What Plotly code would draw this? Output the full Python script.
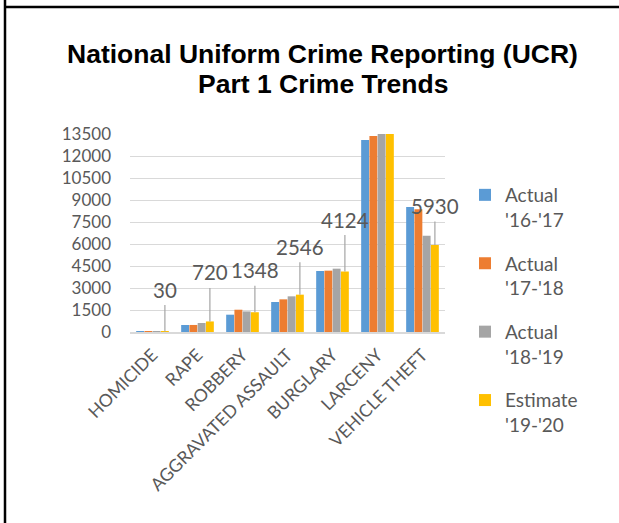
import plotly.graph_objects as go

categories = ["HOMICIDE", "RAPE", "ROBBERY", "AGGRAVATED ASSAULT", "BURGLARY", "LARCENY", "VEHICLE THEFT"]
actual_16_17 = [40, 477, 1180, 2045, 4159, 13090, 8523]
actual_17_18 = [45, 480, 1520, 2227, 4182, 13364, 8364]
actual_18_19 = [35, 613, 1404, 2432, 4318, 13700, 6568]
estimate_19_20 = [30, 720, 1348, 2546, 4124, 13800, 5930]
series_names = ["Actual<br>'16-'17", "Actual<br>'17-'18", "Actual<br>'18-'19", "Estimate<br>'19-'20"]
series_values = [actual_16_17, actual_17_18, actual_18_19, estimate_19_20]
colors = ["#5B9BD5", "#ED7D31", "#A5A5A5", "#FFC000"]
y_ticks = list(range(0, 13501, 1500))
title_lines = ["National Uniform Crime Reporting (UCR)", "Part 1 Crime Trends"]

# labelled points of the estimate series and leader offsets (px)
label_idx = [0, 1, 2, 3, 4, 6]
label_offsets = [-42, -49, -42, -48, -52, -39]

W, H = 619, 523
ML, MR, MT, MB = 130, 174, 134, 191
PW, PH = W - ML - MR, H - MT - MB


def px_x(x):
    return (x - ML) / PW


def px_y(y):
    return (H - MB - y) / PH


txt = "#595959"
fig = go.Figure()
for k, (name, vals, c) in enumerate(zip(series_names, series_values, colors)):
    fig.add_trace(go.Bar(x=categories, y=vals, name=name, marker_color=c,
                         marker_line_width=0, legendgroup=f"g{k}"))

for i, off in zip(label_idx, label_offsets):
    fig.add_annotation(x=categories[i], y=estimate_19_20[i], xref="x", yref="y",
                       text=str(estimate_19_20[i]), showarrow=True, arrowhead=0,
                       arrowwidth=1.2, arrowcolor="#A5A5A5", ax=0, ay=off,
                       xshift=12.4, borderpad=3,
                       font=dict(family="Lato", size=20.5, color=txt))

for line, yc in zip(title_lines, [53.5, 83.5]):
    fig.add_annotation(text=f"<b>{line}</b>", xref="paper", yref="paper",
                       x=px_x(322.5), y=px_y(yc),
                       xanchor="center", yanchor="middle", showarrow=False,
                       font=dict(family="Liberation Sans", size=26.5, color="black"))

fig.update_layout(
    width=W, height=H,
    margin=dict(l=ML, r=MR, t=MT, b=MB, autoexpand=False),
    paper_bgcolor="white", plot_bgcolor="white",
    barmode="group", bargap=0.267, bargroupgap=0.04,
    legend=dict(x=px_x(465), xanchor="left", y=px_y(176), yanchor="top", yref="paper",
                font=dict(family="Lato", size=19, color=txt), valign="top",
                tracegroupgap=16, bgcolor="rgba(0,0,0,0)", maxheight=400),
    showlegend=True,
    xaxis=dict(tickangle=-45, tickfont=dict(family="Lato", size=17.6, color=txt),
               showline=True, linecolor="#D9D9D9", linewidth=1.5, ticks="",
               showgrid=False, automargin=False, range=[-0.5, len(categories) - 0.5],
               ticklabelstandoff=4),
    yaxis=dict(range=[0, 13500], tickvals=y_ticks, ticktext=[str(v) for v in y_ticks],
               tickfont=dict(family="Lato", size=17, color=txt),
               showgrid=True, gridcolor="#D9D9D9", gridwidth=1.3, automargin=False,
               zeroline=False, showline=False, ticks="", ticklabelstandoff=18),
    shapes=[
        dict(type="line", xref="paper", yref="paper", x0=px_x(5), x1=px_x(5),
             y0=px_y(H), y1=px_y(0), line=dict(color="black", width=2.5)),
        dict(type="line", xref="paper", yref="paper", x0=px_x(5), x1=px_x(W),
             y0=px_y(7), y1=px_y(7), line=dict(color="black", width=2.5)),
    ],
)
fig.write_html("out.html")
